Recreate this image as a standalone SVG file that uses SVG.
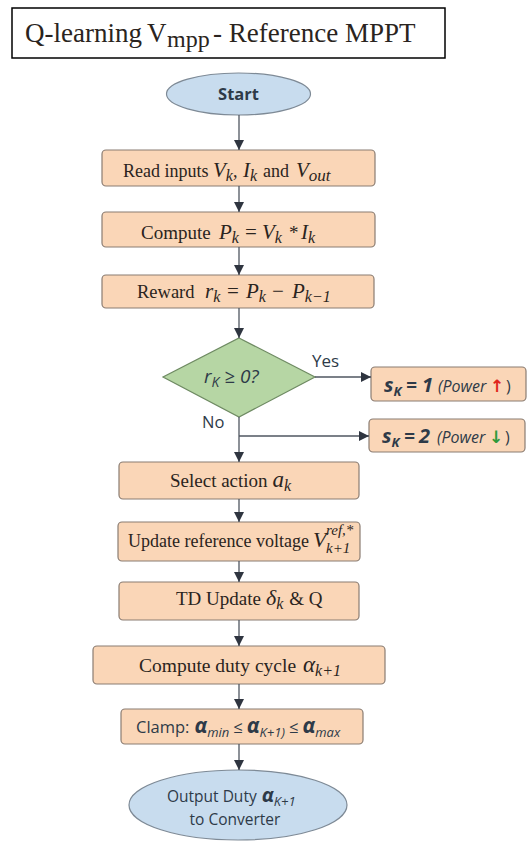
<svg xmlns="http://www.w3.org/2000/svg" width="530" height="842" viewBox="0 0 530 842">
<defs>
<style>
.box{fill:#fad6b7;stroke:#8a7c72;stroke-width:1.2}
.ell{fill:#c8dcee;stroke:#7e8a96;stroke-width:1.2}
.dia{fill:#b6d6a4;stroke:#6e8a62;stroke-width:1.2}
.conn{stroke:#4f5660;stroke-width:1.3;fill:none;marker-end:url(#ah)}
.sf{font-family:"Liberation Serif","Times New Roman",serif;fill:#2a2420}
.i{font-style:italic}
.ss{font-family:"Open Sans","Noto Sans",sans-serif;fill:#2e3a48}
.b{font-weight:bold}
.arw{font-family:"DejaVu Sans",sans-serif;font-style:normal;font-weight:bold}
</style>
<marker id="ah" markerUnits="userSpaceOnUse" markerWidth="11" markerHeight="11" refX="10" refY="5" orient="auto">
<path d="M0,0 L10,5 L0,10 z" fill="#2f3540"/>
</marker>
</defs>
<rect width="530" height="842" fill="#ffffff"/>

<g id="title">
<rect x="12" y="8" width="433" height="50" fill="#ffffff" stroke="#000000" stroke-width="1.5"/>
<text class="sf" font-size="27" y="42" fill="#000"><tspan x="25">Q-learning</tspan><tspan x="147">V</tspan><tspan x="167" y="47" font-size="24">mpp</tspan><tspan x="213" y="42">- Reference</tspan><tspan x="345">MPPT</tspan></text>
</g>

<g id="start">
<ellipse class="ell" cx="238.5" cy="94" rx="72" ry="21"/>
<text class="ss b" font-size="16.5" x="238.5" y="100" text-anchor="middle">Start</text>
</g>

<g id="read">
<rect class="box" x="102" y="150" width="273" height="36" rx="4"/>
<text class="sf" font-size="18" y="177"><tspan x="123">Read inputs</tspan><tspan x="213" class="i" font-size="21">V</tspan><tspan class="i" font-size="16" dy="4">k</tspan><tspan dy="-4">,</tspan><tspan x="243" class="i" font-size="21">I</tspan><tspan class="i" font-size="16" dy="4">k</tspan><tspan x="263" dy="-4">and</tspan><tspan x="296" class="i" font-size="21">V</tspan><tspan class="i" font-size="17" dy="4">out</tspan></text>
</g>

<g id="power">
<rect class="box" x="102" y="212" width="273" height="35" rx="4"/>
<text class="sf" font-size="19" y="239"><tspan x="141">Compute</tspan><tspan x="219" class="i" font-size="21">P</tspan><tspan class="i" font-size="16" dy="4">k</tspan><tspan x="245" dy="-4" font-size="21">=</tspan><tspan x="262" class="i" font-size="21">V</tspan><tspan class="i" font-size="16" dy="4">k</tspan><tspan x="289" dy="-4" font-size="19">*</tspan><tspan x="301" class="i" font-size="21">I</tspan><tspan class="i" font-size="16" dy="4">k</tspan></text>
</g>

<g id="reward">
<rect class="box" x="102" y="275" width="272" height="33" rx="4"/>
<text class="sf" font-size="18.5" y="298"><tspan x="137">Reward</tspan><tspan x="205" class="i" font-size="21">r</tspan><tspan class="i" font-size="16" dy="4">k</tspan><tspan x="227" dy="-4" font-size="21">=</tspan><tspan x="246" class="i" font-size="21">P</tspan><tspan class="i" font-size="16" dy="4">k</tspan><tspan x="272" dy="-4" font-size="21">−</tspan><tspan x="292" class="i" font-size="21">P</tspan><tspan class="i" font-size="16" dy="4">k−1</tspan></text>
</g>

<g id="decision">
<polygon class="dia" points="239,338 315,377 239,417 163,377"/>
<text class="ss i" font-size="19" y="383"><tspan x="204">r</tspan><tspan font-size="14" dy="4">K</tspan><tspan dy="-4"> ≥ 0?</tspan></text>
</g>

<g id="s1">
<rect class="box" x="371" y="367" width="155" height="34" rx="4"/>
<text class="ss i" font-size="16" y="392"><tspan x="384" class="b" font-size="20">s</tspan><tspan class="b" font-size="13" dy="4">K</tspan><tspan x="406" dy="-4" class="b" font-size="19">=</tspan><tspan x="422" class="b" font-size="20">1</tspan><tspan x="438">(Power</tspan><tspan x="490" class="arw" font-size="17" fill="#e0261c">↑</tspan><tspan x="506" font-style="normal">)</tspan></text>
</g>

<g id="s2">
<rect class="box" x="369" y="419" width="156" height="33" rx="4"/>
<text class="ss i" font-size="16" y="443"><tspan x="382" class="b" font-size="20">s</tspan><tspan class="b" font-size="13" dy="4">K</tspan><tspan x="404" dy="-4" class="b" font-size="19">=</tspan><tspan x="419" class="b" font-size="20">2</tspan><tspan x="437">(Power</tspan><tspan x="489" class="arw" font-size="17" fill="#2e9a3a">↓</tspan><tspan x="505" font-style="normal">)</tspan></text>
</g>

<g id="select">
<rect class="box" x="119" y="462" width="240" height="37" rx="4"/>
<text class="sf" font-size="19" y="487"><tspan x="170">Select action</tspan><tspan dx="5" class="i" font-size="23">a</tspan><tspan class="i" font-size="16" dy="4">k</tspan></text>
</g>

<g id="vref">
<rect class="box" x="118" y="522" width="242" height="39" rx="4"/>
<text class="sf" font-size="18" y="547"><tspan x="128">Update reference voltage</tspan><tspan x="313" class="i" font-size="22">V</tspan><tspan x="326" y="535" class="i" font-size="15">ref,*</tspan><tspan x="326" y="553" class="i" font-size="15">k+1</tspan></text>
</g>

<g id="td">
<rect class="box" x="119" y="582" width="240" height="38" rx="4"/>
<text class="sf" font-size="19" y="605"><tspan x="176">TD Update</tspan><tspan dx="5" class="i" font-size="22">δ</tspan><tspan class="i" font-size="16" dy="4">k</tspan><tspan dx="6" dy="-4">&amp; Q</tspan></text>
</g>

<g id="duty">
<rect class="box" x="93" y="646" width="292" height="38" rx="4"/>
<text class="sf" font-size="19.5" y="672"><tspan x="139">Compute duty cycle</tspan><tspan x="303" class="i" font-size="23">α</tspan><tspan class="i" font-size="16" dy="4">k+1</tspan></text>
</g>

<g id="clamp">
<rect class="box" x="121" y="709" width="242" height="35" rx="4"/>
<text class="ss" font-size="16.5" y="733"><tspan x="136">Clamp:</tspan><tspan dx="5" class="i b" font-size="21">α</tspan><tspan class="i" font-size="13" dy="4">min</tspan><tspan dx="4" dy="-4">≤</tspan><tspan dx="4" class="i b" font-size="21">α</tspan><tspan class="i" font-size="13" dy="4">K+1)</tspan><tspan dx="4" dy="-4">≤</tspan><tspan dx="4" class="i b" font-size="21">α</tspan><tspan class="i" font-size="13" dy="4">max</tspan></text>
</g>

<g id="output">
<ellipse class="ell" cx="238" cy="805" rx="109" ry="35"/>
<text class="ss" font-size="15.5" y="802"><tspan x="167">Output Duty</tspan><tspan dx="5" class="i b" font-size="20">α</tspan><tspan class="i" font-size="13" dy="4">K+1</tspan></text>
<text class="ss" font-size="15.5" x="235" y="825" text-anchor="middle">to Converter</text>
</g>

<g id="connectors">
<line class="conn" x1="239" y1="115" x2="239" y2="150"/>
<line class="conn" x1="239" y1="186" x2="239" y2="212"/>
<line class="conn" x1="239" y1="247" x2="239" y2="275"/>
<line class="conn" x1="239" y1="308" x2="239" y2="338"/>
<line class="conn" x1="315" y1="377" x2="371" y2="377"/>
<line class="conn" x1="239" y1="417" x2="239" y2="462"/>
<line class="conn" x1="239" y1="436" x2="369" y2="436"/>
<line class="conn" x1="239" y1="499" x2="239" y2="522"/>
<line class="conn" x1="239" y1="561" x2="239" y2="582"/>
<line class="conn" x1="239" y1="620" x2="239" y2="646"/>
<line class="conn" x1="239" y1="684" x2="239" y2="709"/>
<line class="conn" x1="239" y1="744" x2="239" y2="770"/>
<text class="ss" font-size="17" x="312" y="367">Yes</text>
<text class="ss" font-size="16.5" x="202" y="428">No</text>
</g>
</svg>
